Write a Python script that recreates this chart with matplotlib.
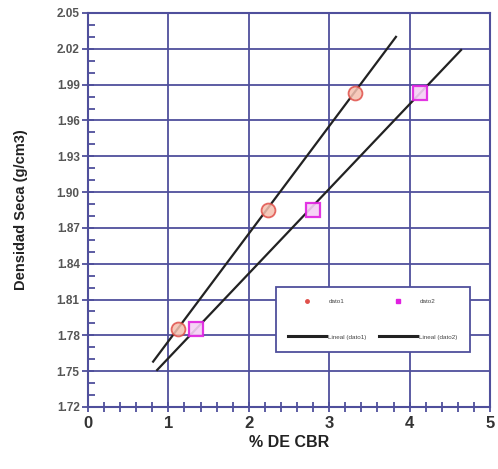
import matplotlib
matplotlib.use("Agg")
import matplotlib.pyplot as plt
from matplotlib.ticker import MultipleLocator, FixedLocator
from matplotlib.lines import Line2D

# Data
cbr_1 = [1.12, 2.24, 3.32]
dens_1 = [1.785, 1.885, 1.983]
cbr_2 = [1.34, 2.80, 4.13]
dens_2 = [1.785, 1.885, 1.983]
# Trend line endpoints (Lineal)
trend1_x = [0.81, 3.83]
trend1_y = [1.758, 2.030]
trend2_x = [0.86, 4.64]
trend2_y = [1.751, 2.019]

y_ticks = [1.72, 1.75, 1.78, 1.81, 1.84, 1.87, 1.90, 1.93, 1.96, 1.99, 2.02, 2.05]
x_ticks = [0, 1, 2, 3, 4, 5]

plt.rcParams['font.family'] = ['Liberation Sans', 'DejaVu Sans']
grid_c = '#4f4f9c'

fig = plt.figure(figsize=(4.98, 4.69), dpi=100)
ax = fig.add_axes([0.1767, 0.1322, 0.8073, 0.8401])

ax.plot(trend1_x, trend1_y, color='#222222', lw=1.6, zorder=3)
ax.plot(trend2_x, trend2_y, color='#222222', lw=1.6, zorder=3)
ax.plot(cbr_1, dens_1, 'o', ms=10, mfc='#f5c0b0', mec='#e0504a', mew=1.3, ls='none', alpha=0.85, zorder=4)
ax.plot(cbr_2, dens_2, 's', ms=10, mfc='#f6d0f6', mec='#e020e0', mew=1.6, ls='none', alpha=0.9, zorder=4)

ax.set_xlim(0, 5)
ax.set_ylim(1.72, 2.05)
ax.xaxis.set_major_locator(FixedLocator(x_ticks))
ax.yaxis.set_major_locator(FixedLocator(y_ticks))
ax.xaxis.set_minor_locator(MultipleLocator(0.2))
ax.yaxis.set_minor_locator(MultipleLocator(0.01))
ax.set_xticklabels([str(v) for v in x_ticks], fontsize=12, fontweight='bold', color='#333333')
ax.set_yticklabels([f"{v:.2f}" for v in y_ticks], fontsize=8.5, fontweight='bold', color='#555555')
ax.grid(True, which='major', color=grid_c, lw=1.3)
for s in ax.spines.values():
    s.set_color(grid_c)
    s.set_linewidth(1.5)
ax.tick_params(axis='both', which='both', color=grid_c, width=1.3)
ax.tick_params(axis='x', which='both', direction='inout', length=7, pad=3)
ax.tick_params(axis='y', which='major', direction='inout', length=8, pad=2)
ax.tick_params(axis='y', which='minor', direction='in', length=5)

ax.set_xlabel('% DE CBR', fontsize=11.5, fontweight='bold', color='#222222', labelpad=3)
ax.set_ylabel('Densidad Seca (g/cm3)', fontsize=10.5, fontweight='bold', color='#222222')
ax.yaxis.set_label_coords(-0.148, 0.5)

# Legend box (contents are illegible in the reference); column-major order
handles = [
    Line2D([], [], marker='o', ms=2.5, color='#e0504a', ls='none'),
    Line2D([], [], color='#222222', lw=2.2),
    Line2D([], [], marker='s', ms=2.5, color='#e020e0', ls='none'),
    Line2D([], [], color='#222222', lw=2.2),
]
labels = ['dato1', 'Lineal (dato1)', 'dato2', 'Lineal (dato2)']
leg = ax.legend(handles, labels, ncol=2, loc='lower left', mode='expand',
                bbox_to_anchor=(0.468, 0.14, 0.482, 0.17),
                fontsize=4.5, frameon=True, fancybox=False, handlelength=6,
                borderpad=1.95, borderaxespad=0, columnspacing=1.5, labelspacing=4.8,
                handletextpad=0.4, labelcolor='#444444')
leg.get_frame().set_edgecolor(grid_c)
leg.get_frame().set_linewidth(1.3)
leg.get_frame().set_alpha(1)

fig.savefig('out.png', dpi=100)
